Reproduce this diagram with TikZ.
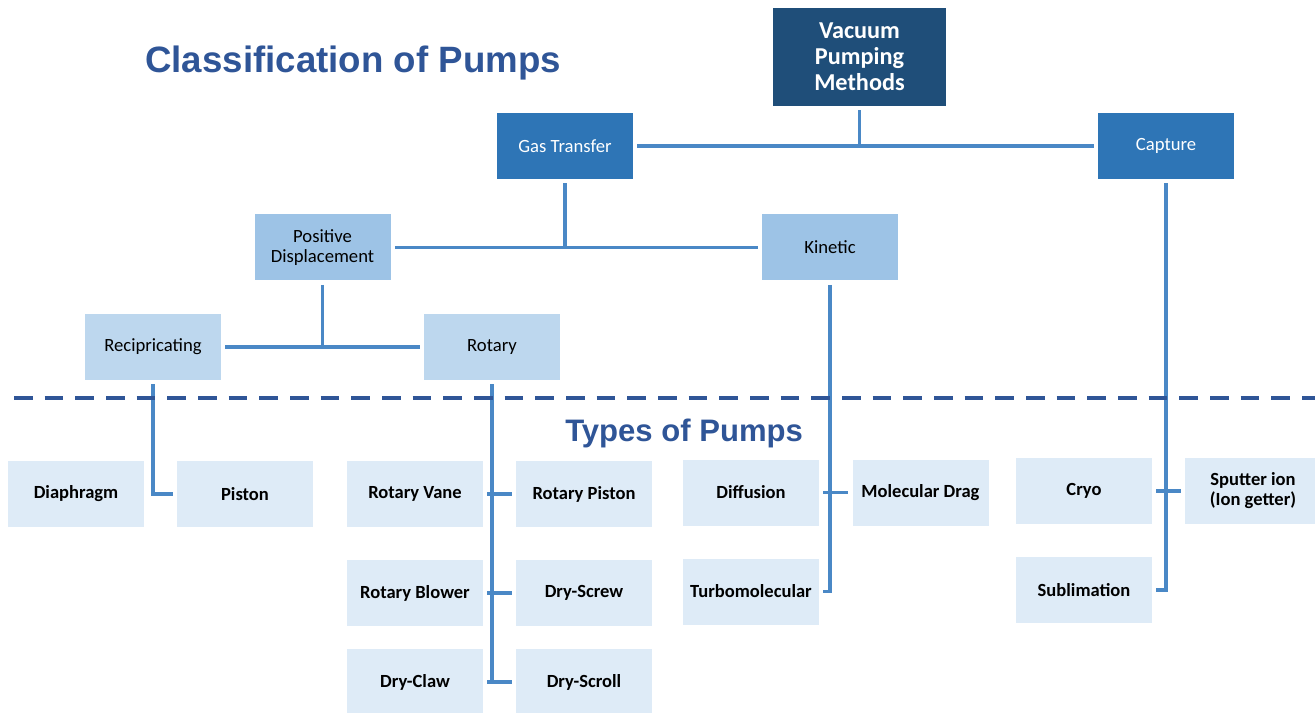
\documentclass[tikz,border=0pt]{standalone}
\usepackage{fontspec}
\setmainfont{Carlito}
\newfontfamily\headfont{Liberation Sans}
\usetikzlibrary{positioning}
\definecolor{topblue}{HTML}{1F4E79}
\definecolor{midblue}{HTML}{2E75B6}
\definecolor{paleblue}{HTML}{9DC3E6}
\definecolor{lightblue}{HTML}{BDD7EE}
\definecolor{typeblue}{HTML}{DEEBF7}
\definecolor{linkblue}{HTML}{4A88C6}
\definecolor{headblue}{HTML}{2F5597}
\tikzset{
	box/.style={rectangle, inner sep=2pt, minimum width=102pt, minimum height=49.5pt, align=center, font=\fontsize{14}{15}\selectfont},
	methodbox/.style={box, fill=midblue, text=white},
	groupbox/.style={box, fill=paleblue},
	subbox/.style={box, fill=lightblue},
	typebox/.style={box, fill=typeblue, font=\fontsize{13.9}{15}\selectfont\bfseries},
	link/.style={draw=linkblue, line width=2.6pt, shorten <=3pt, shorten >=3pt},
	heading/.style={text=headblue, inner sep=0pt, anchor=base west, font=\headfont\bfseries},
}
% pixel units, origin top left
\newcommand\typepair[3]{%
	\draw[link] (#1) -- (#2);
	\draw[draw=linkblue, line width=2.6pt] (#3 |- #1) -- ++(-4,0);}

\begin{document}
\begin{tikzpicture}[x=0.75pt, y=-0.75pt]
	\useasboundingbox (0,0) rectangle (1315,713);
	\node[heading, font=\headfont\bfseries\fontsize{27.5}{32}\selectfont] (title) at (145,72.5) {Classification of Pumps};
	\node[heading, font=\headfont\bfseries\fontsize{23.3}{27}\selectfont] (types) at (565,441.5) {Types of Pumps};
	% upper tree
	\node[box, fill=topblue, text=white, minimum width=129.75pt, minimum height=73.5pt, font=\fontsize{18.2}{19.5}\selectfont\bfseries] (vpm) at (859.5,57) {Vacuum\\Pumping\\Methods};
	\node[methodbox] (gas) at (565,146) {Gas Transfer};
	\node[methodbox] (capture) at (1166,146) {Capture};
	\node[groupbox] (posdisp) at (322.5,247.5) {Positive\\Displacement};
	\node[groupbox] (kinetic) at (830,247.5) {Kinetic};
	\node[subbox] (recip) at (153,347) {Recipricating};
	\node[subbox] (rotary) at (492,347) {Rotary};
	% lower tree
	\node[typebox] (diaphragm) at (76,494) {Diaphragm};
	\node[typebox] (piston) at (245,494) {Piston};
	\node[typebox] (rvane) at (415,494) {Rotary Vane};
	\node[typebox] (rpiston) at (584,494) {Rotary Piston};
	\node[typebox] (rblower) at (415,593) {Rotary Blower};
	\node[typebox] (dscrew) at (584,593) {Dry-Screw};
	\node[typebox] (dclaw) at (415,682) {Dry-Claw};
	\node[typebox] (dscroll) at (584,682) {Dry-Scroll};
	\node[typebox] (diffusion) at (751,492.5) {Diffusion};
	\node[typebox] (moldrag) at (920.5,492.5) {Molecular Drag};
	\node[typebox] (turbo) at (751,591.5) {Turbomolecular};
	\node[typebox] (cryo) at (1084,491) {Cryo};
	\node[typebox] (sputter) at (1253,491) {Sputter ion\\(Ion getter)};
	\node[typebox] (sublim) at (1084,590) {Sublimation};

	\draw[link, shorten >=0pt] (vpm.south) -- (vpm.south |- gas.east);
	\draw[link] (gas) -- (capture);
	\draw[link, shorten >=0pt] (gas.south) -- (gas.south |- posdisp.east);
	\draw[link] (posdisp) -- (kinetic);
	\draw[link, shorten >=0pt] (posdisp.south) -- (posdisp.south |- recip.east);
	\draw[link] (recip) -- (rotary);

	\draw[link, shorten >=0pt] (recip.south) -- (recip.south |- piston.west) -- ++(20,0);
	\draw[link, shorten >=0pt] (rotary.south) -- (rotary.south |- dclaw.east);
	\typepair{rvane}{rpiston}{rotary.south}
	\typepair{rblower}{dscrew}{rotary.south}
	\typepair{dclaw}{dscroll}{rotary.south}
	\draw[link] (kinetic.south) -- (kinetic.south |- turbo.east) -- (turbo.east);
	\draw[link] (diffusion) -- (moldrag);
	\draw[link] (capture.south) -- (capture.south |- sublim.east) -- (sublim.east);
	\draw[link] (cryo) -- (sputter);
	%\draw[link] (diaphragm) -- (piston);

	\draw[draw=headblue, line width=3pt, dash pattern=on 14pt off 9pt] (14,398) -- (1315,398);
\end{tikzpicture}
\end{document}
